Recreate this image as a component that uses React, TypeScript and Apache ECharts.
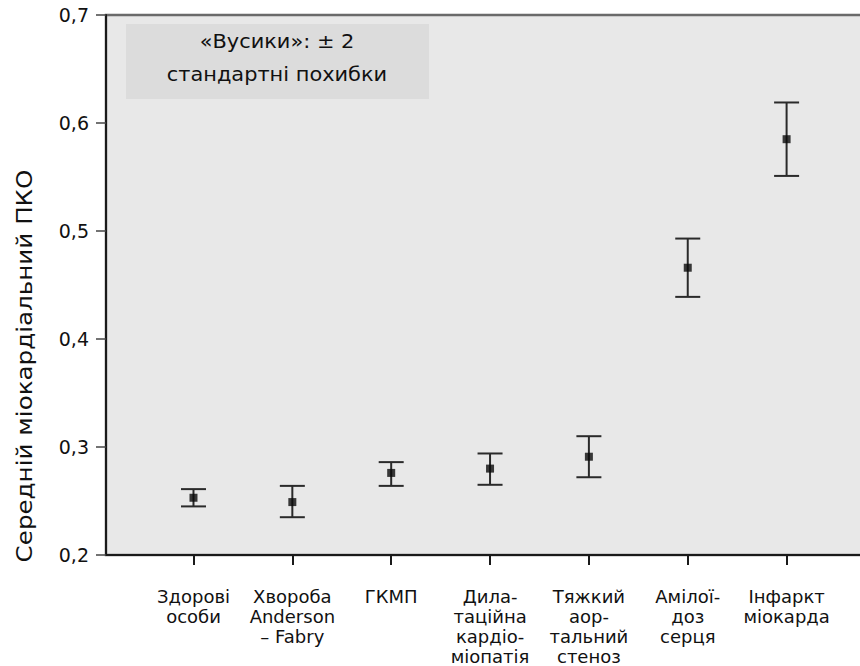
import React, { useEffect, useRef } from "react";
import * as echarts from "echarts";

const categories = [
  "Здорові\nособи",
  "Хвороба\nAnderson\n– Fabry",
  "ГКМП",
  "Дила-\nтаційна\nкардіо-\nміопатія",
  "Тяжкий\nаор-\nтальний\nстеноз",
  "Амілої-\nдоз\nсерця",
  "Інфаркт\nміокарда",
];
const means = [0.253, 0.249, 0.276, 0.28, 0.291, 0.466, 0.585];
const lower = [0.245, 0.235, 0.264, 0.265, 0.272, 0.439, 0.551];
const upper = [0.261, 0.264, 0.286, 0.294, 0.31, 0.493, 0.619];
const yMin = 0.2;
const yMax = 0.7;
const yStep = 0.1;
const yTitle = "Середній міокардіальний ПКО";
const legendLines = ["«Вусики»: ± 2", "стандартні похибки"];

const FONT = "'DejaVu Sans', 'Liberation Sans', sans-serif";

export default function App() {
  const ref = useRef<HTMLDivElement>(null);
  useEffect(() => {
    if (!ref.current) return;
    const chart = echarts.init(ref.current, null, { renderer: "svg" });
    const idx = categories.map((_, i) => i);
    chart.setOption({
      animation: false,
      grid: {
        left: 106,
        right: -4,
        top: 15,
        bottom: 111,
        containLabel: false,
        outerBoundsMode: "none",
        show: true,
        backgroundColor: "#e8e8e8",
        borderColor: "#6a6a6a",
        borderWidth: 2.5,
      },
      xAxis: {
        type: "value",
        min: -0.885,
        max: 6.783,
        axisLine: { show: true, onZero: false, lineStyle: { color: "#1a1a1a", width: 2 } },
        axisTick: {
          show: true,
          customValues: idx,
          length: 10,
          lineStyle: { color: "#1a1a1a", width: 2 },
        },
        axisLabel: {
          customValues: idx,
          formatter: (v: number) => categories[Math.round(v)],
          margin: 31,
          fontFamily: FONT,
          fontSize: 18,
          lineHeight: 20,
          color: "#111",
          align: "center",
        },
        splitLine: { show: false },
      },
      yAxis: {
        type: "value",
        min: yMin,
        max: yMax,
        interval: yStep,
        axisLine: { show: true, onZero: false, lineStyle: { color: "#1a1a1a", width: 2 } },
        axisTick: { show: true, inside: false, length: 10, lineStyle: { color: "#444", width: 1.5 } },
        axisLabel: {
          formatter: (v: number) => v.toFixed(1).replace(".", ","),
          margin: 17,
          fontFamily: FONT,
          fontSize: 19,
          color: "#111",
        },
        splitLine: { show: false },
      },
      graphic: [
        {
          type: "rect",
          shape: { x: 126, y: 24, width: 303, height: 75 },
          style: { fill: "#dcdcdc" },
          z: 1,
        },
        {
          type: "text",
          x: 277,
          y: 41,
          scaleX: 1.1,
          z: 2,
          style: {
            text: legendLines[0],
            font: `19px ${FONT}`,
            fill: "#111",
            align: "center",
            verticalAlign: "middle",
          },
        },
        {
          type: "text",
          x: 277,
          y: 74,
          scaleX: 1.1,
          z: 2,
          style: {
            text: legendLines[1],
            font: `19px ${FONT}`,
            fill: "#111",
            align: "center",
            verticalAlign: "middle",
          },
        },
        {
          type: "text",
          x: 25,
          y: 366,
          rotation: Math.PI / 2,
          scaleX: 1.2,
          style: {
            text: yTitle,
            font: `20.5px ${FONT}`,
            fill: "#111",
            align: "center",
            verticalAlign: "middle",
          },
        },
      ],
      series: [
        {
          type: "custom",
          data: idx.map((i) => [i, lower[i], upper[i]]),
          encode: { x: 0, y: [1, 2] },
          z: 3,
          renderItem: (params: any, api: any) => {
            const x = api.value(0);
            const lo = api.coord([x, api.value(1)]);
            const hi = api.coord([x, api.value(2)]);
            const hw = 12.5;
            const style = { stroke: "#2a2a2a", lineWidth: 2 };
            return {
              type: "group",
              children: [
                { type: "line", shape: { x1: lo[0], y1: lo[1], x2: hi[0], y2: hi[1] }, style },
                { type: "line", shape: { x1: lo[0] - hw, y1: lo[1], x2: lo[0] + hw, y2: lo[1] }, style },
                { type: "line", shape: { x1: hi[0] - hw, y1: hi[1], x2: hi[0] + hw, y2: hi[1] }, style },
              ],
            };
          },
        },
        {
          type: "scatter",
          data: idx.map((i) => [i, means[i]]),
          symbol: "rect",
          symbolSize: 8,
          itemStyle: { color: "#0a0a0a" },
          z: 4,
        },
      ],
    });
    return () => chart.dispose();
  }, []);
  return (
    <div
      ref={ref}
      style={{ position: "absolute", left: 0, top: 0, width: 860, height: 666 }}
    />
  );
}
